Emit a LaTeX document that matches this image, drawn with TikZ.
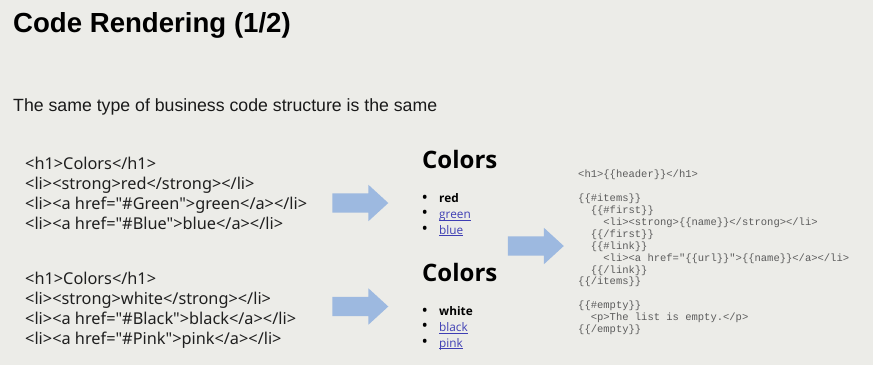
\documentclass[tikz,border=0pt]{standalone}
\usepackage{fontspec}
\usepackage{xcolor}
\usepackage{tikz}
\usetikzlibrary{shapes.arrows, positioning}

\setmainfont{Liberation Sans}
\setmonofont{Liberation Mono}
\newfontfamily\srcfont{Noto Sans}
\newfontfamily\pagefont{Open Sans}

\definecolor{slidebg}{RGB}{236,236,232}
\definecolor{arrowblue}{RGB}{157,185,224}
\definecolor{linkblue}{RGB}{62,62,180}
\definecolor{tplgray}{RGB}{92,92,92}

% underlined link text, rule kept just under the baseline
\newcommand\weblink[1]{{\color{linkblue}\setbox0\hbox{#1}\rlap{\rule[-1.7pt]{\wd0}{0.6pt}}\box0}}
\newcommand\bul{\makebox[17pt][l]{\hspace*{-0.5pt}\raisebox{-0.3pt}{\fontsize{17}{0}\selectfont\textbullet}}}

\tikzset{
  srccode/.style={anchor=north west, inner sep=0pt, align=left, text=black!88,
    font=\srcfont\fontsize{16.3}{20}\selectfont},
  pagehead/.style={anchor=base west, inner sep=0pt, font=\pagefont\bfseries\fontsize{24}{28}\selectfont},
  pagelist/.style={anchor=base west, inner sep=0pt, align=left,
    font=\pagefont\fontsize{11.8}{15.6}\selectfont},
  tplcode/.style={anchor=north west, inner sep=0pt, align=left, text=tplgray,
    font=\ttfamily\fontsize{10.5}{11.9}\selectfont},
  blockarrow/.style={single arrow, fill=arrowblue, draw=none, inner xsep=0pt, inner ysep=9.5pt,
    minimum height=56pt, single arrow head extend=8.5pt, single arrow tip angle=85}
}

\begin{document}
\begin{tikzpicture}[x=1pt, y=-1pt]
\fill[slidebg] (0,0) rectangle (873,365);
\useasboundingbox (0,0) rectangle (873,365);

\node[anchor=base west, inner sep=0pt, font=\bfseries\fontsize{27.6}{32}\selectfont] (title) at (13,32) {Code Rendering (1/2)};
\node[anchor=base west, inner sep=0pt, font=\fontsize{17.7}{21}\selectfont, text=black!90] (subtitle) at (13,111)
  {The same type of business code structure is the same};

% two html sources
\node[srccode] (srcA) at (25,157) {%
<h1>Colors</h1>\\
<li><strong>red</strong></li>\\
<li><a href="\#Green">green</a></li>\\
<li><a href="\#Blue">blue</a></li>};
\node[srccode] (srcB) at (25,272) {%
<h1>Colors</h1>\\
<li><strong>white</strong></li>\\
<li><a href="\#Black">black</a></li>\\
<li><a href="\#Pink">pink</a></li>};

\node[blockarrow] (arrA) at (355,203) {};
\node[blockarrow] (arrB) at (355,306.5) {};

% rendered pages
\node[pagehead] (headA) at (422,168) {Colors};
\node[pagelist] (listA) at ([yshift=-66pt]headA.base west) {%
\bul\textbf{red}\\
\bul\weblink{green}\\
\bul\weblink{blue}};
\node[pagehead] (headB) at (422,281.7) {Colors};
\node[pagelist] (listB) at ([yshift=-65.3pt]headB.base west) {%
\bul\textbf{white}\\
\bul\weblink{black}\\
\bul\weblink{pink}};

\node[blockarrow] (arrC) at (530.5,246) {};

% shared template
\node[tplcode] (tpl) at (578,170) {%
<h1>\{\{header\}\}</h1>\\
\mbox{}\\
\{\{\#items\}\}\\
\ \ \{\{\#first\}\}\\
\ \ \ \ <li><strong>\{\{name\}\}</strong></li>\\
\ \ \{\{/first\}\}\\
\ \ \{\{\#link\}\}\\
\ \ \ \ <li><a href="\{\{url\}\}">\{\{name\}\}</a></li>\\
\ \ \{\{/link\}\}\\
\{\{/items\}\}\\
\mbox{}\\
\{\{\#empty\}\}\\
\ \ <p>The list is empty.</p>\\
\{\{/empty\}\}};
\end{tikzpicture}
\end{document}
